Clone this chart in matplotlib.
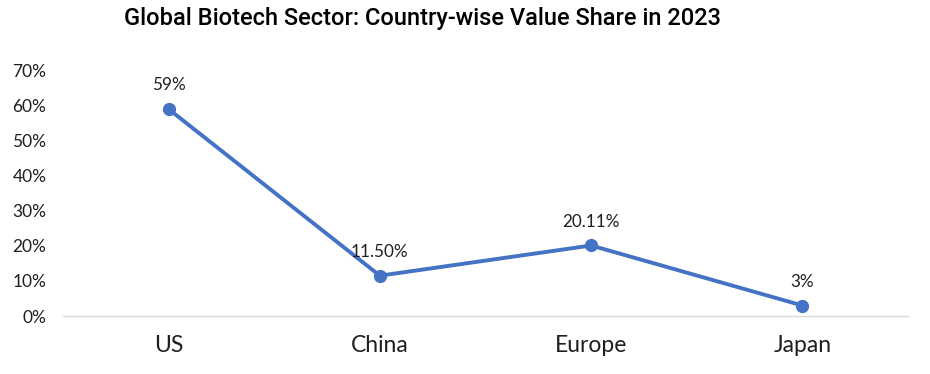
import numpy as np
from matplotlib import pyplot as plt
from matplotlib.ticker import PercentFormatter

# data
countries = ["US", "China", "Europe", "Japan"]
share = [0.59, 0.115, 0.2011, 0.03]
share_labels = ["59%", "11.50%", "20.11%", "3%"]
yticks = [0.0, 0.1, 0.2, 0.3, 0.4, 0.5, 0.6, 0.7]

line_color = "#4472C4"
text_color = "#1f1f1f"

plt.rcParams["font.family"] = ["Lato", "DejaVu Sans"]

fig = plt.figure(figsize=(9.3, 3.74), dpi=100)
ax = fig.add_axes([0.0677, 0.155, 0.9087, 0.6565])

x = np.arange(len(countries))
ax.plot(x, share, color=line_color, linewidth=2.8, marker="o", markersize=8.5)

# data labels above each point
for xi, yi, lab in zip(x, share, share_labels):
    ax.annotate(lab, (xi, yi), xytext=(0, 17), textcoords="offset points",
                ha="center", va="center", fontsize=12.3, color=text_color)

ax.set_xlim(-0.5, len(countries) - 0.5)
ax.set_ylim(0, 0.7)
ax.set_xticks(x)
ax.set_xticklabels(countries, fontsize=16.5, color=text_color)
ax.set_yticks(yticks)
ax.yaxis.set_major_formatter(PercentFormatter(1.0, decimals=0))
ax.tick_params(axis="y", length=0, pad=12, labelsize=12.5, labelcolor=text_color)
ax.tick_params(axis="x", length=0, pad=14)

for side in ["top", "right", "left"]:
    ax.spines[side].set_visible(False)
ax.spines["bottom"].set_color("#D9D9D9")
ax.spines["bottom"].set_linewidth(1.0)

fig.text(0.454, 0.95, "Global Biotech Sector: Country-wise Value Share in 2023",
         ha="center", va="center", fontsize=17, color="black", fontweight="medium",
         family=["Roboto", "DejaVu Sans"])

fig.savefig("out.png", dpi=100)
